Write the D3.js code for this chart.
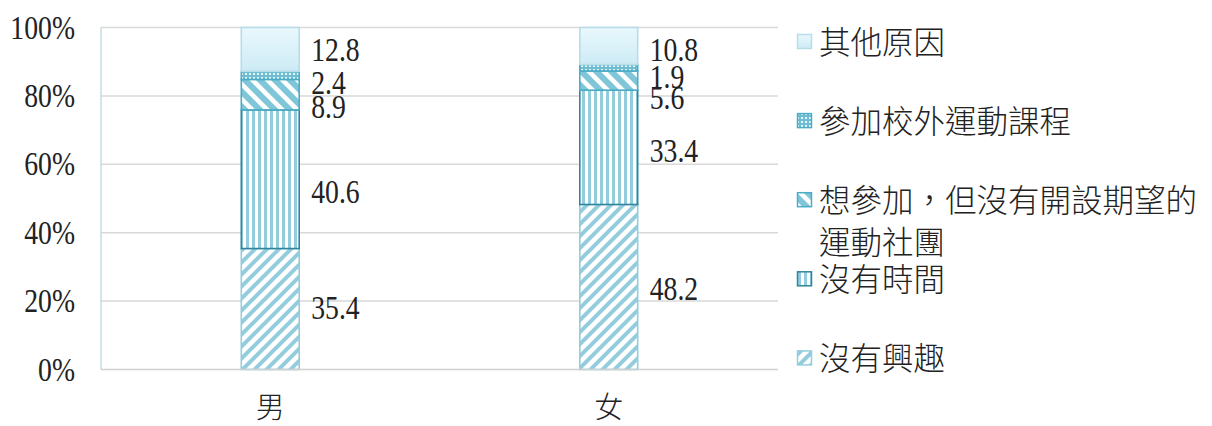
<!DOCTYPE html>
<html><head><meta charset="utf-8">
<script src="https://cdn.jsdelivr.net/npm/d3@7"></script>
<style>html,body{margin:0;padding:0;background:#fff;}</style>
</head><body>
<svg id="chart" width="1212" height="426"></svg>
<script>
const categories = ["男", "女"];
const seriesNames = ["沒有興趣", "沒有時間", "想參加，但沒有開設期望的運動社團", "參加校外運動課程", "其他原因"];
const noInterest = [35.4, 48.2];
const noTime = [40.6, 33.4];
const wantClub = [8.9, 5.6];
const outsideCourse = [2.4, 1.9];
const otherReason = [12.8, 10.8];
const yTicks = [0, 20, 40, 60, 80, 100];
const legendLines = [["沒有興趣"], ["沒有時間"], ["想參加，但沒有開設期望的", "運動社團"], ["參加校外運動課程"], ["其他原因"]];

// styling (not data)
const fills = ["url(#pUpDiag)", "url(#pVert)", "url(#pDnDiag)", "url(#pDots)", "url(#gOther)"];
const strokes = ["#93cddd", "#31859c", "#4bacc6", "#4bacc6", "#b7dde8"];
const labelNudge = [[-2, 12, 12, 7, 0], [2, 3, 17, 9, 4]];

const svg = d3.select("#chart");
const m = {left: 101, right: 778, top: 27.5, bottom: 369.5};

const defs = svg.append("defs");
// wide upward diagonal
const p1 = defs.append("pattern").attr("id", "pUpDiag").attr("patternUnits", "userSpaceOnUse")
  .attr("width", 12).attr("height", 12);
p1.append("rect").attr("width", 12).attr("height", 12).attr("fill", "#fff");
p1.append("path").attr("d", "M-3,3 L3,-3 M0,12 L12,0 M9,15 L15,9").attr("stroke", "#93cddd").attr("stroke-width", 4);
// vertical stripes
const p2 = defs.append("pattern").attr("id", "pVert").attr("patternUnits", "userSpaceOnUse")
  .attr("width", 6).attr("height", 6);
p2.append("rect").attr("width", 6).attr("height", 6).attr("fill", "#fff");
p2.append("rect").attr("x", 0).attr("width", 3).attr("height", 6).attr("fill", "#93cddd");
// wide downward diagonal
const p3 = defs.append("pattern").attr("id", "pDnDiag").attr("patternUnits", "userSpaceOnUse")
  .attr("width", 15).attr("height", 15);
p3.append("rect").attr("width", 15).attr("height", 15).attr("fill", "#fff");
p3.append("path").attr("d", "M-4,-4 L19,19 M-4,11 L4,19 M11,-4 L19,4").attr("stroke", "#80c6d9").attr("stroke-width", 6);
// dots
const p4 = defs.append("pattern").attr("id", "pDots").attr("patternUnits", "userSpaceOnUse")
  .attr("width", 4).attr("height", 4);
p4.append("rect").attr("width", 4).attr("height", 4).attr("fill", "#6fbdd2");
p4.append("rect").attr("x", 1).attr("y", 1).attr("width", 2).attr("height", 2).attr("fill", "#e8f6fa");
// gradient
const g5 = defs.append("linearGradient").attr("id", "gOther").attr("x1", 0).attr("y1", 1).attr("x2", 0).attr("y2", 0);
g5.append("stop").attr("offset", "0%").attr("stop-color", "#cdebf5");
g5.append("stop").attr("offset", "100%").attr("stop-color", "#e9f8fd");

const x = d3.scaleBand().domain(categories).range([m.left, m.right]).paddingInner(0.829).paddingOuter(0.4145);
const y = d3.scaleLinear().domain([0, 1]).range([m.bottom, m.top]);

// gridlines
svg.append("g").selectAll("line").data(yTicks.filter(t => t > 0)).join("line")
  .attr("x1", m.left).attr("x2", m.right)
  .attr("y1", d => y(d / 100)).attr("y2", d => y(d / 100))
  .attr("stroke", "#d9d9d9").attr("stroke-width", 1.5);
svg.append("line").attr("x1", m.left).attr("x2", m.left).attr("y1", m.top).attr("y2", m.bottom)
  .attr("stroke", "#c3dde5").attr("stroke-width", 1.5);

const serif = "'Liberation Serif', 'Times New Roman', serif";
const cjk = "'Noto Sans CJK TC', 'Noto Sans CJK SC', sans-serif";
svg.append("g").selectAll("text").data(yTicks).join("text")
  .attr("transform", d => `translate(75,${y(d / 100) + 11}) scale(0.84,1)`)
  .attr("text-anchor", "end").attr("font-family", serif).attr("font-size", 33).attr("fill", "#222")
  .text(d => d + "%");

const rows = categories.map((c, i) => ({cat: c, s0: noInterest[i], s1: noTime[i], s2: wantClub[i], s3: outsideCourse[i], s4: otherReason[i]}));
const keys = ["s0", "s1", "s2", "s3", "s4"];
const stacked = d3.stack().keys(keys).offset(d3.stackOffsetExpand)(rows);

const bars = svg.append("g");
stacked.forEach((layer, li) => {
  bars.append("g").selectAll("rect").data(layer).join("rect")
    .attr("x", d => x(d.data.cat)).attr("width", x.bandwidth())
    .attr("y", d => y(d[1])).attr("height", d => y(d[0]) - y(d[1]))
    .attr("fill", fills[li]).attr("stroke", strokes[li]).attr("stroke-width", 1.6);
});

svg.append("line").attr("x1", m.left).attr("x2", m.right).attr("y1", m.bottom).attr("y2", m.bottom)
  .attr("stroke", "#d0d0d0").attr("stroke-width", 1.5);

const lab = svg.append("g");
stacked.forEach((layer, li) => {
  lab.append("g").selectAll("text").data(layer).join("text")
    .attr("transform", (d, ci) => `translate(${x(d.data.cat) + x.bandwidth() + 12},${(y(d[0]) + y(d[1])) / 2 + labelNudge[ci][li] + 11.5}) scale(0.84,1)`)
    .attr("font-family", serif).attr("font-size", 33).attr("fill", "#222")
    .text(d => d.data[keys[li]].toFixed(1));
});

svg.append("g").selectAll("text").data(categories).join("text")
  .attr("x", d => x(d) + x.bandwidth() / 2).attr("y", 418)
  .attr("text-anchor", "middle").attr("font-family", cjk).attr("font-weight", 300).attr("font-size", 29).attr("fill", "#222")
  .text(d => d);

const leg = svg.append("g");
const order = [4, 3, 2, 1, 0];
order.forEach((si, k) => {
  const cy = 41.5 + k * 79.1;
  leg.append("rect").attr("x", 797.5).attr("y", cy - 7).attr("width", 14).attr("height", 14)
    .attr("fill", fills[si]).attr("stroke", strokes[si]).attr("stroke-width", 1.5);
  const t = leg.append("text").attr("font-family", cjk).attr("font-weight", 300).attr("font-size", 31.5).attr("fill", "#222");
  legendLines[si].forEach((ln, j) => {
    t.append("tspan").attr("x", 819).attr("y", cy + 12 + j * 42).text(ln);
  });
});
</script>
</body></html>
